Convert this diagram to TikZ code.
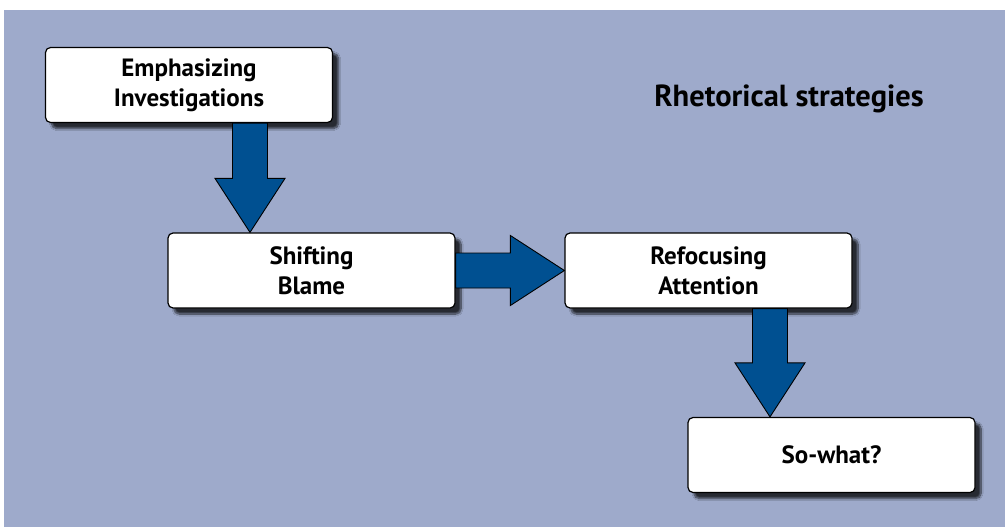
\documentclass[tikz,border=0pt]{standalone}
\usepackage{fontspec}
\setmainfont{PT Sans}
\usetikzlibrary{calc,shadows.blur}
\definecolor{panelblue}{RGB}{158,170,203}
\definecolor{arrowblue}{RGB}{0,80,145}
\tikzset{
    stratbox/.style={draw=black, line width=1.2pt, fill=white, rounded corners=5pt,
      minimum width=287pt, minimum height=75pt, align=center,
      font=\fontsize{25}{30}\selectfont\bfseries,
      blur shadow={shadow xshift=6pt, shadow yshift=-6pt, shadow blur steps=10, shadow opacity=75}},
    fatarrow/.style={draw=black, line width=0.9pt, fill=arrowblue, line join=miter,
      to path={ ($(\tikztotarget)!54pt!(\tikztostart)$) coordinate (arrhead)
        ($(\tikztostart)!17.5pt!90:(\tikztotarget)$) -- ($(arrhead)!17.5pt!-90:(\tikztostart)$)
        -- ($(arrhead)!35pt!-90:(\tikztostart)$) -- (\tikztotarget)
        -- ($(arrhead)!35pt!90:(\tikztostart)$) -- ($(arrhead)!17.5pt!90:(\tikztostart)$)
        -- ($(\tikztostart)!17.5pt!-90:(\tikztotarget)$) -- cycle}},
  }
\begin{document}
\begin{tikzpicture}[x=1pt,y=-1pt]
  \useasboundingbox (0,0) rectangle (1005,527);
  %PANEL
  \fill[panelblue] (4,10) rectangle (1005,527);
  \node[font=\fontsize{30.5}{34}\selectfont\bfseries] (title) at (789,99) {Rhetorical strategies};

  %BOXES
  \node[stratbox] (emph) at (189,85) {Emphasizing\\Investigations};
  \node[stratbox] (shift) at (311.5,270.5) {Shifting\\Blame};
  \node[stratbox] (refoc) at (708.5,270.5) {Refocusing\\Attention};
  \node[stratbox] (sowhat) at (831.5,455) {So-what?};

  %ARROWS
  \draw[fatarrow] ([xshift=61pt]emph.south) to ([xshift=-61.5pt]shift.north);
  \draw[fatarrow] (shift.east) to (refoc.west);
  \draw[fatarrow] ([xshift=61.5pt]refoc.south) to ([xshift=-61.5pt]sowhat.north);
\end{tikzpicture}
\end{document}
